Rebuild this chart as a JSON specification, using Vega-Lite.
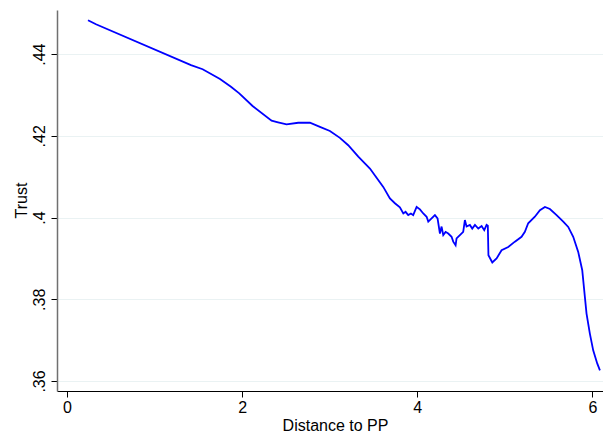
{
  "$schema": "https://vega.github.io/schema/vega-lite/v6.json",
  "width": 546,
  "height": 381,
  "autosize": {"type": "none"},
  "padding": {"left": 57, "top": 10, "right": 0, "bottom": 47},
  "background": "white",
  "config": {
    "view": {"stroke": null},
    "font": "Liberation Sans"
  },
  "data": {
    "values": [
      {"d": 0.240, "t": 0.4483},
      {"d": 0.331, "t": 0.4473},
      {"d": 1.416, "t": 0.4373},
      {"d": 1.549, "t": 0.4363},
      {"d": 1.747, "t": 0.4339},
      {"d": 1.872, "t": 0.4320},
      {"d": 1.967, "t": 0.4304},
      {"d": 2.119, "t": 0.4273},
      {"d": 2.336, "t": 0.4237},
      {"d": 2.410, "t": 0.4233},
      {"d": 2.507, "t": 0.4228},
      {"d": 2.640, "t": 0.4232},
      {"d": 2.774, "t": 0.4232},
      {"d": 2.888, "t": 0.4222},
      {"d": 3.002, "t": 0.4212},
      {"d": 3.116, "t": 0.4195},
      {"d": 3.211, "t": 0.4177},
      {"d": 3.326, "t": 0.4149},
      {"d": 3.459, "t": 0.4120},
      {"d": 3.611, "t": 0.4075},
      {"d": 3.687, "t": 0.4047},
      {"d": 3.744, "t": 0.4035},
      {"d": 3.801, "t": 0.4025},
      {"d": 3.840, "t": 0.4010},
      {"d": 3.866, "t": 0.4014},
      {"d": 3.896, "t": 0.4006},
      {"d": 3.927, "t": 0.4010},
      {"d": 3.953, "t": 0.4006},
      {"d": 3.992, "t": 0.4026},
      {"d": 4.030, "t": 0.4020},
      {"d": 4.068, "t": 0.4010},
      {"d": 4.106, "t": 0.4002},
      {"d": 4.125, "t": 0.3990},
      {"d": 4.163, "t": 0.3998},
      {"d": 4.201, "t": 0.4006},
      {"d": 4.231, "t": 0.3998},
      {"d": 4.258, "t": 0.3961},
      {"d": 4.277, "t": 0.3978},
      {"d": 4.296, "t": 0.3957},
      {"d": 4.323, "t": 0.3965},
      {"d": 4.353, "t": 0.3961},
      {"d": 4.391, "t": 0.3953},
      {"d": 4.410, "t": 0.3941},
      {"d": 4.437, "t": 0.3932},
      {"d": 4.448, "t": 0.3949},
      {"d": 4.486, "t": 0.3957},
      {"d": 4.524, "t": 0.3965},
      {"d": 4.543, "t": 0.3994},
      {"d": 4.562, "t": 0.3978},
      {"d": 4.600, "t": 0.3982},
      {"d": 4.627, "t": 0.3973},
      {"d": 4.658, "t": 0.3982},
      {"d": 4.696, "t": 0.3973},
      {"d": 4.734, "t": 0.3979},
      {"d": 4.764, "t": 0.3969},
      {"d": 4.791, "t": 0.3982},
      {"d": 4.805, "t": 0.3980},
      {"d": 4.812, "t": 0.3908},
      {"d": 4.856, "t": 0.3890},
      {"d": 4.905, "t": 0.3900},
      {"d": 4.962, "t": 0.3920},
      {"d": 5.038, "t": 0.3928},
      {"d": 5.114, "t": 0.3941},
      {"d": 5.190, "t": 0.3953},
      {"d": 5.228, "t": 0.3965},
      {"d": 5.266, "t": 0.3986},
      {"d": 5.342, "t": 0.4002},
      {"d": 5.400, "t": 0.4018},
      {"d": 5.457, "t": 0.4026},
      {"d": 5.514, "t": 0.4021},
      {"d": 5.590, "t": 0.4006},
      {"d": 5.666, "t": 0.3990},
      {"d": 5.723, "t": 0.3977},
      {"d": 5.780, "t": 0.3953},
      {"d": 5.837, "t": 0.3916},
      {"d": 5.883, "t": 0.3871},
      {"d": 5.913, "t": 0.3806},
      {"d": 5.932, "t": 0.3765},
      {"d": 5.970, "t": 0.3716},
      {"d": 6.008, "t": 0.3675},
      {"d": 6.054, "t": 0.3643},
      {"d": 6.085, "t": 0.3626}
    ]
  },
  "mark": {"type": "line", "color": "#0000ff", "strokeWidth": 1.8, "interpolate": "linear"},
  "encoding": {
    "x": {
      "field": "d",
      "type": "quantitative",
      "scale": {"domain": [-0.114, 6.12], "nice": false, "zero": false},
      "axis": {
        "values": [0, 2, 4, 6],
        "title": "Distance to PP",
        "grid": false,
        "domainColor": "#000000",
        "domainWidth": 1,
        "tickColor": "#000000",
        "tickSize": 6,
        "labelFont": "Liberation Sans",
        "labelFontSize": 16,
        "labelColor": "#000000",
        "labelBaseline": "alphabetic",
        "labelPadding": 15.5,
        "labelAlign": "center",
        "titleFont": "Liberation Sans",
        "titleFontSize": 16,
        "titleFontWeight": "normal",
        "titleColor": "#000000",
        "titleBaseline": "alphabetic",
        "titleX": 278,
        "titleY": 39,
        "titleAnchor": "middle"
      }
    },
    "y": {
      "field": "t",
      "type": "quantitative",
      "scale": {"domain": [0.35755, 0.4508], "nice": false, "zero": false},
      "axis": {
        "values": [0.36, 0.38, 0.4, 0.42, 0.44],
        "labelExpr": "replace(format(datum.value, '.2~f'), /^0/, '')",
        "title": "Trust",
        "grid": true,
        "gridColor": "#eaf2f3",
        "gridWidth": 1,
        "domainColor": "#707070",
        "domainWidth": 1.5,
        "tickColor": "#000000",
        "tickSize": 6,
        "labelFont": "Liberation Sans",
        "labelFontSize": 16,
        "labelColor": "#000000",
        "labelAngle": -90,
        "labelAlign": "center",
        "labelBaseline": "alphabetic",
        "labelPadding": 7,
        "titleFont": "Liberation Sans",
        "titleFontSize": 16,
        "titleFontWeight": "normal",
        "titleColor": "#000000",
        "titleAngle": -90,
        "titleAlign": "center",
        "titleBaseline": "alphabetic",
        "titleX": -31,
        "titleY": 190
      }
    }
  }
}
